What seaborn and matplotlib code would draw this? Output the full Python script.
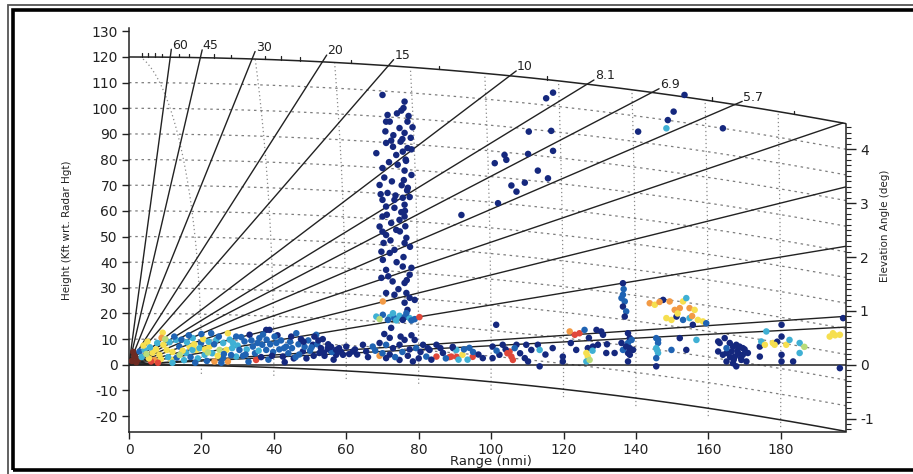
import numpy as np
import pandas as pd
import matplotlib
matplotlib.use("Agg")
import matplotlib.pyplot as plt
from matplotlib.patches import Rectangle
import seaborn as sns

# --- display geometry ---
MAX_RNG = 198.0
KFT_PER_NMI = 6.076
EFF_EARTH_KFT = 4.0 / 3.0 * 20902.0   # 4/3 earth radius, kft
CEILING_KFT = 120.0

LABELED_ELEV = [60, 45, 30, 20, 15, 10, 8.1, 6.9, 5.7]
LABELED_TXT = ["60", "45", "30", "20", "15", "10", "8.1", "6.9", "5.7"]
EXTRA_ELEV = [4.5, 3.3, 2.2, 0.9, 0.7]
CEIL_TICK_ELEV = [80, 75, 70, 65, 55, 50, 40, 35, 27.5, 25, 22.5, 17.5, 12.5, 9, 6, 5]
RANGE_RINGS = [20, 40, 60, 80, 100, 120, 140, 160, 180]
HEIGHT_LINES = [10, 20, 30, 40, 50, 60, 70, 80, 90, 100, 110]
ELEV_MAJOR = [-1, 0, 1, 2, 3, 4]

CLASS_COLORS = {
    "N": "#15287e", "B": "#1f63b3", "C": "#3fb0d4", "G": "#b9dc7a",
    "Y": "#f6df4f", "O": "#f29a45", "R": "#e0473a", "D": "#6e2a22",
}

# --- echoes: range (nmi), height (kft), colour class ---
near_rng = [0.8, 1.5, 2.0, 1.2, 2.5, 2.9, 4.3, 5.1, 6.5, 8.4, 10.4, 7.0, 6.1, 9.3, 9.0, 13.0, 11.7, 13.9,
            15.8, 16.7, 17.6, 18.6, 19.9, 20.9, 22.2, 22.7, 24.1, 25.0, 23.6, 27.3, 27.3, 26.9, 25.9, 28.7,
            29.6, 30.5, 29.6, 3.5, 4.0, 5.5, 5.8, 7.5, 7.8, 8.8, 9.5, 10.8, 11.2, 12.0, 12.5, 13.2, 14.5,
            14.8, 15.2, 16.0, 17.0, 17.5, 18.0, 19.0, 19.5, 20.5, 21.0, 21.5, 22.0, 23.0, 23.5, 24.5, 24.8,
            26.0, 26.2, 27.8, 28.2, 28.5, 25.5, 18.3, 12.0, 8.0, 20.0, 16.5, 10.0, 4.8, 14.0, 21.8]
near_hgt = [1.5, 3.5, 1.0, 5.0, 2.2, 5.2, 5.8, 9.0, 4.7, 3.9, 5.8, 1.9, 1.3, 12.5, 10.5, 9.7, 1.9, 7.1,
            4.6, 7.1, 10.4, 5.8, 8.5, 3.9, 7.1, 12.3, 9.7, 5.8, 1.3, 1.3, 12.3, 5.8, 2.6, 8.5,
            11.0, 5.8, 3.2, 3.0, 7.5, 2.5, 6.8, 6.0, 8.5, 2.2, 7.8, 3.0, 8.8, 5.0, 11.0, 2.8, 9.8,
            5.5, 1.8, 8.8, 3.0, 5.8, 8.0, 2.5, 6.5, 10.0, 6.0, 1.5, 9.0, 4.5, 8.0, 3.5, 11.0,
            8.5, 4.2, 9.8, 3.8, 6.5, 0.8, 0.8, 0.8, 0.8, 12.0, 11.5, 10.0, 4.2, 3.8, 4.8]
near_cls = list("DDDDDBCYYYYORYOCYB" "CYCYBCYBCGOOYYBC" "BBCCYYCYCYYCCYBBB"
                "YCCBCYCCYYBCCBYB" "CBCBCBBCRBBGGGG")

band_rng = [31.9, 33.3, 34.2, 35.1, 36.0, 38.8, 37.9, 40.7, 42.5, 43.4, 46.2, 48.0, 50.8, 51.7, 52.6, 55.4,
            57.2, 37.9, 51.2, 31.5, 32.5, 33.0, 34.8, 35.5, 36.5, 37.0, 38.5, 39.0, 39.8, 41.0, 41.5, 42.0,
            43.0, 44.0, 44.5, 45.0, 45.5, 46.8, 47.0, 47.5, 48.5, 49.0, 49.5, 50.0, 51.0, 52.0, 53.0, 53.5,
            54.0, 55.0, 56.0, 56.5, 58.0, 59.1, 60.0, 61.8, 54.9, 57.2, 63.0,
            30.0, 31.0, 32.2, 33.8, 35.8, 36.8, 38.0, 39.5, 40.2, 42.8, 44.8, 46.0, 48.2, 50.4, 52.3, 53.8,
            55.8, 58.6, 60.8, 62.4]
band_hgt = [9.1, 11.7, 7.1, 1.9, 10.4, 13.6, 5.8, 8.5, 3.2, 7.1, 12.3, 5.2, 7.8, 11.7, 4.6, 5.8,
            3.9, 13.6, 11.0, 3.5, 6.0, 1.2, 4.5, 8.5, 3.0, 11.8, 2.0, 8.0, 5.0, 11.5, 6.0, 9.5,
            1.0, 4.5, 9.0, 6.5, 2.5, 8.0, 4.0, 10.0, 7.0, 2.5, 9.5, 5.5, 3.5, 8.0, 6.5, 10.0,
            3.5, 8.0, 5.0, 2.0, 6.5, 3.9, 7.1, 5.2, 6.5, 5.8, 4.0,
            7.5, 10.8, 4.0, 9.5, 5.5, 7.8, 9.8, 3.5, 11.0, 6.5, 11.0, 3.0, 9.0, 6.8, 9.5, 4.8,
            7.0, 5.0, 4.2, 6.0]
band_cls = list("BNBRBNBBNBBNNBNN" "NNNBCBBBNBBBBNBB" "NBBBNBBNBNBBNBNN" "NNBNNNNNNNN"
                "CBBBCBBNBBNBNBNN" "NNNN")

mid_rng = [64.6, 65.5, 67.3, 69.2, 71.0, 72.9, 74.7, 76.1, 78.9, 79.3, 81.2, 83.0, 84.9, 86.7, 89.5, 71.0,
           74.7, 78.4, 69.2, 84.9, 89.0, 82.1, 90.4, 88.5, 90.5, 94.9, 92.1, 94.0, 89.4, 66.0, 68.0, 70.0,
           72.0, 73.5, 75.5, 77.0, 77.5, 80.0, 80.5, 82.5, 83.5, 86.0, 87.5, 91.0, 92.5, 93.5, 95.0, 96.5,
           97.7, 72.0, 75.0, 70.5, 78.0, 72.4]
mid_hgt = [7.8, 5.2, 7.1, 8.5, 7.8, 6.5, 7.8, 9.7, 9.7, 6.5, 7.8, 5.8, 7.8, 4.6, 6.5, 2.6,
           1.9, 1.3, 3.5, 3.2, 3.2, 3.2, 5.8, 3.0, 3.1, 3.1, 3.9, 6.6, 7.0, 3.0, 5.5, 4.5,
           4.0, 3.0, 5.0, 3.5, 6.0, 2.5, 5.0, 6.5, 2.0, 6.5, 2.5, 2.0, 6.0, 2.0, 5.0, 4.0,
           2.6, 10.5, 11.0, 12.0, 11.5, 14.4]
mid_cls = list("NNBNBNNNNBNNNNNN" "NNORRBCRRRYBNNBB" "NBBNNNNNNNBCBCBN" "NNNNNN")

far_rng = [100.4, 103.2, 107.0, 109.7, 112.9, 111.1, 113.4, 102.3, 100.4, 105.1, 105.6, 106.0, 109.3, 110.2,
           113.4, 119.8, 119.8, 121.7, 123.1, 124.4, 125.8, 123.5, 126.7, 126.3, 126.7, 126.3, 127.2, 128.1,
           129.1, 130.4, 130.9, 129.5, 134.1, 101.4, 104.0, 106.5, 108.0, 101.5, 115.0, 117.0, 122.0, 127.0,
           132.0, 128.0, 104.5, 131.8,
           149.8, 152.1, 153.9, 156.7, 162.7, 164.5, 165.0, 163.1, 165.9, 166.8, 167.7, 168.6, 169.5, 166.4,
           168.2, 169.5, 167.3, 169.1, 166.8, 165.0, 164.0, 162.7, 170.5, 170.9, 167.7, 165.0, 167.0, 168.0,
           169.0, 166.0, 170.0,
           174.2, 174.2, 176.0, 174.6, 177.8, 179.0, 180.2, 180.2, 180.2, 180.2, 183.4, 181.5, 185.2, 182.4,
           185.2, 175.6, 178.3, 186.5, 193.5, 194.4, 196.3, 197.2, 196.3, 195.0]
far_hgt = [7.1, 7.8, 7.8, 7.8, 7.8, 5.8, 5.8, 3.9, 2.6, 5.2, 3.2, 1.9, 2.6, 1.3,
           -0.6, 3.2, 1.3, 13.0, 11.7, 12.3, 13.6, 5.8, 6.5, 4.6, 3.2, 1.3, 1.9, 7.1,
           13.6, 13.0, 11.7, 7.8, 4.6, 15.6, 6.0, 6.5, 4.5, 5.5, 4.0, 6.5, 8.5, 10.5,
           8.0, 5.5, 4.5, 4.6,
           5.8, 10.4, 5.8, 9.7, 9.1, 10.4, 4.6, 8.5, 8.5, 7.1, 7.8, 7.1, 6.5, 5.2,
           4.6, 3.9, 3.2, 1.9, 0.6, 1.3, 3.9, 5.2, 1.3, 4.6, -0.6, 6.5, 2.0, 5.5,
           2.8, 3.0, 6.0,
           7.1, 3.2, 13.0, 9.1, 8.5, 9.0, 15.6, 11.0, 3.9, 1.3, 1.3, 7.8, 8.5, 9.7,
           4.6, 7.8, 7.8, 7.0, 11.0, 12.3, 11.7, 18.2, -1.3, 11.5]
far_cls = list("NNNNNNCNNRRRNN" "NNNORRBNNYYCGN" "NNNNNNNBNBNNNN" "NCRN"
               "BNNCNNNNNNNNNN" "NNNNNNNNNNNBNN" "NNN"
               "NNCCYNNNNNNYCC" "CYYGYYYNNY")

column_rng = [70.0, 76.1, 75.8, 75.2, 71.4, 71.0, 72.0, 76.9, 74.7, 78.3, 76.1, 71.0, 72.4, 72.9, 76.9, 78.0,
              75.6, 68.3, 73.8, 70.0, 76.1, 78.0, 69.2, 71.4, 73.3, 70.0, 75.6, 77.5, 71.0, 73.3, 76.1, 70.0,
              72.4, 74.7, 76.1, 69.2, 73.8, 76.6, 70.0, 71.0, 76.1, 69.7, 72.0, 73.3, 70.1, 71.0, 75.6, 78.0,
              69.7, 72.8, 76.1, 77.5, 71.0, 73.3, 76.6, 77.5, 78.9, 76.1, 70.1, 76.9, 75.5, 76.4, 75.9, 76.8,
              75.2, 76.3,
              74.0, 77.2, 70.8, 73.0, 75.0, 77.8, 71.8, 74.2, 76.5, 70.5, 72.6, 75.3, 77.0, 69.5, 73.6, 76.2,
              71.2, 74.8, 77.6, 70.3, 72.2, 75.8, 73.9, 71.6, 76.7, 74.4]
column_hgt = [105.2, 102.6, 100.1, 99.1, 97.4, 94.8, 94.8, 94.8, 92.3, 92.6, 90.4, 86.5, 87.4, 85.0, 84.5, 84.0,
              83.1, 82.5, 81.8, 76.7, 75.7, 74.0, 70.1, 67.0, 64.3, 64.3, 65.1, 65.4, 61.7, 61.2, 62.4, 57.8,
              55.3, 56.5, 57.8, 53.9, 52.6, 49.5, 51.9, 50.6, 47.5, 44.1, 43.6, 44.8, 40.9, 37.0, 38.3, 37.8,
              33.9, 32.5, 31.9, 35.1, 28.0, 27.3, 28.0, 26.1, 25.3, 24.2, 24.7, 21.4, 88.0, 80.0, 72.0, 68.0,
              59.5, 54.0,
              98.0, 97.0, 91.0, 89.5, 87.0, 88.5, 79.0, 78.0, 79.5, 73.0, 71.5, 70.0, 69.0, 66.5, 66.0, 60.0,
              58.5, 52.0, 46.0, 47.5, 48.5, 42.0, 40.0, 34.5, 33.0, 29.5]
column_cls = list("NNNNNNNNNNNNNNNN" "NNNNNNNNNNNNNNNN" "NNNNNNNNNNNNNNNN" "NNNNNNNNNNONNNNN" "NN"
                  "NNNNNNNNNNNNNNNN" "NNNNNNNNNN")

bright_rng = [68.3, 70.1, 72.0, 73.3, 74.7, 76.1, 77.5, 78.9, 80.2, 69.2, 71.5, 73.8, 75.6, 78.0, 72.9, 76.6]
bright_hgt = [18.8, 19.5, 18.6, 18.2, 19.1, 18.6, 18.2, 17.8, 18.6, 17.8, 17.5, 17.3, 17.5, 17.3, 20.1, 20.1]
bright_cls = list("CBCBCBCBRGBCNBCB")

cell_rng = [136.4, 136.4, 136.9, 136.4, 137.3, 136.9, 136.0, 137.8, 138.3, 137.8, 138.3, 137.8, 136.0, 136.4,
            138.3, 137.3, 138.8, 139.2, 137.8, 145.6, 146.1, 145.6, 146.1, 145.6, 145.6, 146.1, 145.8, 136.6]
cell_hgt = [31.8, 27.3, 24.7, 22.7, 20.8, 18.8, 26.0, 12.3, 10.4, 8.5, 6.5, 4.6, 8.5, 5.8,
            3.9, 7.1, 9.7, 5.8, 1.3, 10.4, 8.5, 6.5, 4.6, 2.6, -0.6, 9.7, 5.8, 29.5]
cell_cls = list("NBBNBNBNNBNNNB" "NNBNNBBCCBNBCB")

anvil_rng = [143.8, 145.2, 147.5, 149.3, 150.7, 152.1, 153.0, 153.9, 154.8, 156.2, 148.4, 149.8, 151.2, 153.0,
             154.8, 157.1, 158.5, 155.7, 159.4, 146.5, 151.5, 155.5]
anvil_hgt = [24.0, 23.4, 25.3, 24.7, 21.4, 22.1, 24.7, 26.0, 22.1, 21.4, 18.2, 17.5, 18.8, 17.5,
             18.2, 17.5, 16.9, 15.6, 16.2, 24.5, 20.0, 19.0]
anvil_cls = list("OYNOOOYCOYYYNB" "CYYNBOYO")

aloft_rng = [91.8, 101.9, 105.6, 107.0, 109.3, 112.9, 115.7, 101.0, 103.7, 104.2, 110.2, 117.1, 110.4, 116.6,
             115.2, 117.1, 140.6, 148.4, 148.8, 150.4, 153.4, 164.0]
aloft_hgt = [58.4, 63.0, 69.9, 67.5, 71.0, 75.7, 72.7, 78.6, 81.8, 79.9, 82.2, 83.4, 90.9, 91.2,
             103.9, 106.1, 90.9, 92.2, 95.4, 98.7, 105.2, 92.2]
aloft_cls = list("NNNNNNNNNNNNNN" "NNNCNNNN")


def earth_drop(x):
    return (x * KFT_PER_NMI) ** 2 / (2.0 * EFF_EARTH_KFT)


def ceiling_hit(elev):
    b = KFT_PER_NMI * np.tan(np.radians(elev))
    c = KFT_PER_NMI ** 2 / (2.0 * EFF_EARTH_KFT)
    return (-b + np.sqrt(b * b + 4 * c * CEILING_KFT)) / (2 * c)


groups = [
    (band_rng, band_hgt, band_cls), (mid_rng, mid_hgt, mid_cls), (far_rng, far_hgt, far_cls),
    (column_rng, column_hgt, column_cls), (aloft_rng, aloft_hgt, aloft_cls),
    (cell_rng, cell_hgt, cell_cls), (bright_rng, bright_hgt, bright_cls),
    (anvil_rng, anvil_hgt, anvil_cls), (near_rng, near_hgt, near_cls),
]
echoes = pd.concat([pd.DataFrame({"range": r, "height": h, "cls": c}) for r, h, c in groups],
                   ignore_index=True)

sns.set_style("ticks")
plt.rcParams["font.family"] = ["DejaVu Sans"]
plt.rcParams["axes.unicode_minus"] = False
INK = "#222222"

W, H = 913, 474
fig = plt.figure(figsize=(W / 100, H / 100), dpi=100)
ax = fig.add_axes([129 / W, 1 - 432 / H, (846 - 129) / W, (432 - 28) / H])
YLIM = (-26.2, 131.3)
ax.set_xlim(0, MAX_RNG)
ax.set_ylim(*YLIM)
px_per_nmi = (846 - 129) / MAX_RNG
px_per_kft = (432 - 28) / (YLIM[1] - YLIM[0])

xs = np.linspace(0, MAX_RNG, 400)
hgt_kw = dict(color="#7d7d7d", lw=0.9, ls=(0, (2.0, 3.0)), zorder=1)
ring_kw = dict(color="#8a8a8a", lw=0.9, ls=(0, (1.0, 2.2)), zorder=1)

# constant-height lines above the curved earth
for hl in HEIGHT_LINES:
    ax.plot(xs, hl - earth_drop(xs), **hgt_kw)

# slant-range rings
phi = np.radians(np.linspace(-4, 90, 4000))
for rr in RANGE_RINGS:
    rx = rr * np.cos(phi)
    ry = rr * KFT_PER_NMI * np.sin(phi)
    keep = (ry >= -earth_drop(rx) - 3.3) & (ry <= CEILING_KFT - earth_drop(rx)) & (rx <= MAX_RNG)
    ax.plot(rx[keep], ry[keep], **ring_kw)

line_kw = dict(color=INK, lw=1.0, zorder=2)
ax.plot(xs, -earth_drop(xs), color=INK, lw=1.1, zorder=2)
ax.plot(xs, CEILING_KFT - earth_drop(xs), color=INK, lw=1.1, zorder=2)
ax.plot([0, MAX_RNG], [0, 0], color=INK, lw=1.1, zorder=2)

# elevation rays
for elev in LABELED_ELEV + EXTRA_ELEV:
    slope = KFT_PER_NMI * np.tan(np.radians(elev))
    x_end = min(ceiling_hit(elev), MAX_RNG)
    ax.plot([0, x_end], [0, slope * x_end], **line_kw)

for elev, txt in zip(LABELED_ELEV, LABELED_TXT):
    slope = KFT_PER_NMI * np.tan(np.radians(elev))
    x0 = ceiling_hit(elev)
    y0 = slope * x0
    ux, uy = px_per_nmi, px_per_kft * slope
    norm = np.hypot(ux, uy)
    ext = 8.0
    x1 = x0 + ext * ux / norm / px_per_nmi
    y1 = y0 + ext * uy / norm / px_per_kft
    ax.plot([x0, x1], [y0, y1], **line_kw)
    ax.annotate(txt, (x1, y1), xytext=(0.5, 3.0), textcoords="offset points",
                ha="left", va="center", fontsize=9, color=INK)

for elev in CEIL_TICK_ELEV:
    xt = ceiling_hit(elev)
    yt = CEILING_KFT - earth_drop(xt)
    ax.plot([xt, xt], [yt, yt + 1.4], color=INK, lw=0.9, zorder=2)

sns.scatterplot(data=echoes, x="range", y="height", hue="cls", palette=CLASS_COLORS,
                s=22, marker="o", linewidth=0, legend=False, ax=ax, zorder=3)

ax.set_xticks(np.arange(0, 181, 20))
ax.set_yticks(np.arange(-20, 131, 10))
ax.tick_params(axis="both", direction="out", length=5, width=1, colors=INK, labelsize=10, pad=3)
for side in ["top", "right"]:
    ax.spines[side].set_visible(False)
for side in ["left", "bottom"]:
    ax.spines[side].set_color(INK)
    ax.spines[side].set_linewidth(1.1)
ax.set_xlabel("Range (nmi)", fontsize=9.5, color=INK)
ax.xaxis.set_label_coords(0.505, -0.058)
ax.set_ylabel("Height (Kft wrt. Radar Hgt)", fontsize=7.5, color=INK)
ax.yaxis.set_label_coords(-0.0795, 0.5)

# elevation-angle axis at the far range
ax2 = ax.twinx()
ax2.set_ylim(*YLIM)
edge_h = MAX_RNG * KFT_PER_NMI
ax2.set_yticks(edge_h * np.tan(np.radians(ELEV_MAJOR)))
ax2.set_yticklabels([str(e) for e in ELEV_MAJOR])
minor = np.round(np.arange(-1.2, 4.45, 0.1), 1)
ax2.set_yticks(edge_h * np.tan(np.radians(minor)), minor=True)
ax2.tick_params(axis="y", which="major", direction="out", length=7, width=1, colors=INK, labelsize=10, pad=3)
ax2.tick_params(axis="y", which="minor", direction="out", length=3.5, width=0.8, colors=INK)
for side in ["top", "left", "bottom"]:
    ax2.spines[side].set_visible(False)
ax2.spines["right"].set_bounds(-earth_drop(MAX_RNG), CEILING_KFT - earth_drop(MAX_RNG))
ax2.spines["right"].set_color(INK)
ax2.spines["right"].set_linewidth(1.1)
ax2.set_ylabel("Elevation Angle (deg)", fontsize=7.5, color=INK)
ax2.yaxis.set_label_coords(1.047, 0.511)

# double frame around the picture (right and bottom edges run past the crop)
fig.add_artist(Rectangle((7.5 / W, -4 / H), (930 - 7.5) / W, (469 + 4) / H, transform=fig.transFigure,
                         fill=False, lw=1.3, ec="#555555"))
fig.add_artist(Rectangle((12.5 / W, 4 / H), (930 - 12.5) / W, (464 - 4) / H, transform=fig.transFigure,
                         fill=False, lw=2.6, ec="black"))

fig.savefig("out.png", dpi=100)
